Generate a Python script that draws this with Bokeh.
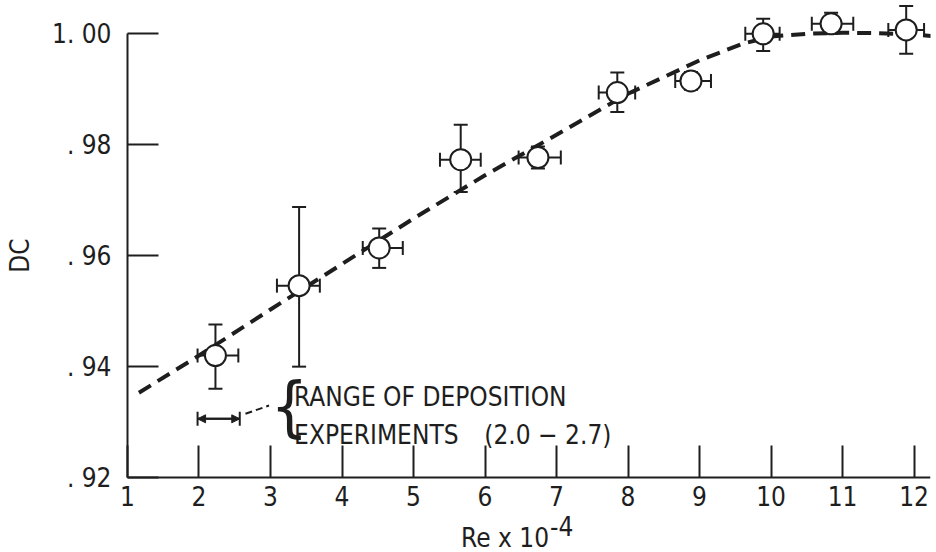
from bokeh.plotting import figure
from bokeh.models import (ColumnDataSource, Whisker, TeeHead, Arrow, NormalHead,
                          Label, FixedTicker, Range1d)
from bokeh.core.properties import value
from bokeh.embed import file_html
from bokeh.resources import INLINE

# ---- data ----
re_x = [2.23, 3.40, 4.52, 5.66, 6.74, 7.85, 8.88, 9.89, 10.84, 11.89]
dc = [0.9420, 0.9546, 0.9614, 0.9773, 0.9777, 0.9894, 0.9915, 1.0000, 1.0018, 1.0007]
dc_hi = [0.9476, 0.9688, 0.9649, 0.9836, 0.9797, 0.9930, 0.9931, 1.0027, 1.0038, 1.0050]
dc_lo = [0.9360, 0.9400, 0.9578, 0.9715, 0.9757, 0.9859, 0.9899, 0.9969, 1.0000, 0.9964]
re_lo = [1.98, 3.09, 4.29, 5.37, 6.47, 7.59, 8.66, 9.64, 10.57, 11.64]
re_hi = [2.55, 3.69, 4.85, 5.94, 7.06, 8.10, 9.16, 10.12, 11.15, 12.14]

curve_x = [1.16, 2.0, 3.0, 4.0, 5.0, 6.0, 7.0, 8.0, 9.0, 9.6, 10.0, 10.5, 11.0, 11.5, 12.0, 12.25]
curve_y = [0.9353, 0.9420, 0.9503, 0.9585, 0.9667, 0.9745, 0.9818, 0.9892, 0.9952, 0.9982,
           0.9995, 1.0000, 1.0002, 1.0001, 0.9999, 0.9996]

x_ticks = [1, 2, 3, 4, 5, 6, 7, 8, 9, 10, 11, 12]
y_ticks = [0.92, 0.94, 0.96, 0.98, 1.00]
y_tick_labels = [". 92", ". 94", ". 96", ". 98", "1. 00"]

range_lo, range_hi, range_y = 1.98, 2.57, 0.9306
leader_x = [2.65, 2.98]
leader_y = [0.9315, 0.9330]

FONT = "DejaVu Sans Condensed"
INK = "#1e1e1e"

# the frame fills the canvas; both axes are pinned at (Re=1, DC=0.92) inside it
p = figure(width=936, height=552, output_backend="svg", toolbar_location=None,
           x_range=Range1d(-0.776, 12.23), y_range=Range1d(0.9065, 1.006),
           min_border_left=0, min_border_right=6, min_border_top=0, min_border_bottom=0)
p.outline_line_color = None
p.grid.grid_line_color = None
p.background_fill_color = "white"
p.border_fill_color = "white"

# axes
p.xaxis.fixed_location = 0.92
p.yaxis.fixed_location = 1
p.xaxis.bounds = (1, 12.23)
p.yaxis.bounds = (0.92, 1.00)
p.xaxis.ticker = FixedTicker(ticks=x_ticks)
p.yaxis.ticker = FixedTicker(ticks=y_ticks)
p.yaxis.major_label_overrides = {v: t for v, t in zip(y_ticks, y_tick_labels)}
for ax in (p.xaxis[0], p.yaxis[0]):
    ax.axis_line_width = 2
    ax.axis_line_color = INK
    ax.major_tick_line_width = 2
    ax.major_tick_line_color = INK
    ax.major_tick_out = 0
    ax.minor_tick_line_color = None
    ax.major_label_text_font = FONT
    ax.major_label_text_font_size = "26px"
    ax.major_label_text_color = INK
    ax.axis_label_text_font = FONT
    ax.axis_label_text_font_size = "26px"
    ax.axis_label_text_font_style = "normal"
    ax.axis_label_text_color = INK
p.xaxis.major_tick_in = 32
p.yaxis.major_tick_in = 31
p.xaxis.major_label_standoff = 8
p.yaxis.major_label_standoff = 16
p.yaxis.axis_label = "DC"
p.yaxis.axis_label_standoff = 14

# x-axis title with a superscript exponent
p.add_layout(Label(x=6.895, y=15, y_units="screen", text="Re x 10",
                   text_font=FONT, text_font_size="26px", text_color=INK,
                   text_baseline="alphabetic", text_align="right"))
p.add_layout(Label(x=6.91, y=27, y_units="screen", text="-4",
                   text_font=FONT, text_font_size="26px", text_color=INK,
                   text_baseline="alphabetic", text_align="left"))

# error bars
src = ColumnDataSource(dict(x=re_x, y=dc, yhi=dc_hi, ylo=dc_lo, xlo=re_lo, xhi=re_hi))
p.add_layout(Whisker(source=src, base="x", upper="yhi", lower="ylo", dimension="height",
                     line_width=2, line_color=INK, level="underlay",
                     upper_head=TeeHead(size=14, line_width=2, line_color=INK),
                     lower_head=TeeHead(size=14, line_width=2, line_color=INK)))
p.add_layout(Whisker(source=src, base="y", upper="xhi", lower="xlo", dimension="width",
                     line_width=2, line_color=INK, level="underlay",
                     upper_head=TeeHead(size=14, line_width=2, line_color=INK),
                     lower_head=TeeHead(size=14, line_width=2, line_color=INK)))

# fitted dashed curve
p.line(curve_x, curve_y, line_color=INK, line_width=4, line_dash="14 8")

# data markers
p.scatter("x", "y", source=src, size=21, fill_color="white", line_color=INK, line_width=2)

# range of deposition experiments annotation
rsrc = ColumnDataSource(dict(y=[range_y], lo=[range_lo], hi=[range_hi]))
p.add_layout(Whisker(source=rsrc, base="y", upper="hi", lower="lo", dimension="width",
                     line_width=2, line_color=INK,
                     upper_head=TeeHead(size=14, line_width=2, line_color=INK),
                     lower_head=TeeHead(size=14, line_width=2, line_color=INK)))
p.add_layout(Arrow(x_start=range_lo, x_end=range_hi, y_start=range_y, y_end=range_y,
                   line_width=2, line_color=INK,
                   start=NormalHead(size=8, fill_color=INK, line_color=INK),
                   end=NormalHead(size=8, fill_color=INK, line_color=INK)))
p.line(leader_x, leader_y, line_color=INK, line_width=2, line_dash="7 4")

p.text(x=[3.00], y=[0.9328], text=["{"], text_font=value(FONT), text_font_size="66px",
       text_color=INK, text_baseline="middle", text_align="left")
p.text(x=[3.33, 3.33, 5.99], y=[0.9346, 0.9276, 0.9276],
       text=["RANGE OF DEPOSITION", "EXPERIMENTS", "(2.0 \u2212 2.7)"],
       text_font=value(FONT), text_font_size="26px", text_color=INK,
       text_baseline="alphabetic", text_align="left")

open("out.html", "w").write(file_html(p, INLINE))
